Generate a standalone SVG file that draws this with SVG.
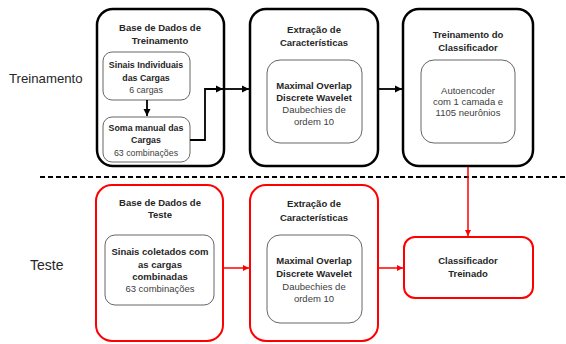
<svg xmlns="http://www.w3.org/2000/svg" width="566" height="344" viewBox="0 0 566 344">
<defs>
<style>
.ob{fill:#fff;stroke:#000;stroke-width:2.5}
.rb{fill:#fff;stroke:#f00;stroke-width:2}
.ib{fill:#fff;stroke:#666;stroke-width:1}
text{font-family:"Liberation Sans",Arial,sans-serif;font-size:9.5px;text-anchor:middle;fill:#404040}
.b{font-weight:bold;fill:#262626}
.s{font-size:8.8px}
.side{font-size:13.2px;text-anchor:start;fill:#262626}
.k{fill:none;stroke:#000;stroke-width:1.8}
.r{fill:none;stroke:#f00;stroke-width:1.5}
</style>
<marker id="ak" viewBox="0 0 6 6" refX="6" refY="3" markerWidth="4" markerHeight="4" orient="auto"><path d="M0,0L6,3L0,6z" fill="#000"/></marker>
<marker id="ar" viewBox="0 0 6 6" refX="6" refY="3" markerWidth="4" markerHeight="4" orient="auto"><path d="M0,0L6,3L0,6z" fill="#f00"/></marker>
</defs>
<text class="side" x="9" y="83">Treinamento</text>
<text class="side" x="30" y="270" style="font-size:14px">Teste</text>
<line x1="40" y1="177" x2="566" y2="177" stroke="#000" stroke-width="2" stroke-dasharray="5,3"/>
<g id="n1">
<rect class="ob" x="97" y="9" width="127" height="157" rx="16"/>
<text class="b" x="160" y="31">Base de Dados de</text>
<text class="b" x="160" y="44">Treinamento</text>
</g>
<g id="n1a">
<rect class="ib" x="103" y="52" width="87" height="48" rx="9"/>
<text class="b s" x="146" y="68">Sinais Individuais</text>
<text class="b s" x="146" y="81">das Cargas</text>
<text class="s" x="146" y="93">6 cargas</text>
</g>
<g id="n1b">
<rect class="ib" x="103" y="117" width="87" height="45" rx="9"/>
<text class="b s" x="146" y="131">Soma manual das</text>
<text class="b s" x="146" y="143">Cargas</text>
<text class="s" x="146" y="156">63 combinações</text>
</g>
<g id="n2">
<rect class="ob" x="250" y="9" width="128" height="157" rx="16"/>
<text class="b" x="314" y="33">Extração de</text>
<text class="b" x="314" y="46">Características</text>
<rect class="ib" x="267" y="60" width="95" height="83" rx="13"/>
<text class="b" x="314" y="89">Maximal Overlap</text>
<text class="b" x="314" y="101">Discrete Wavelet</text>
<text x="314" y="113">Daubechies de</text>
<text x="314" y="125">ordem 10</text>
</g>
<g id="n3">
<rect class="ob" x="403" y="9" width="130" height="157" rx="16"/>
<text class="b" x="468" y="38">Treinamento do</text>
<text class="b" x="468" y="51">Classificador</text>
<rect class="ib" x="421" y="60" width="94" height="83" rx="13"/>
<text x="468" y="94">Autoencoder</text>
<text x="468" y="105">com 1 camada e</text>
<text x="468" y="116">1105 neurônios</text>
</g>
<g id="n4">
<rect class="rb" x="96" y="185" width="127" height="156" rx="16"/>
<text class="b" x="160" y="206">Base de Dados de</text>
<text class="b" x="160" y="218">Teste</text>
<rect class="ib" x="105" y="235" width="109" height="70" rx="10"/>
<text class="b" x="160" y="255">Sinais coletados com</text>
<text class="b" x="160" y="268">as cargas</text>
<text class="b" x="160" y="280">combinadas</text>
<text x="160" y="292">63 combinações</text>
</g>
<g id="n5">
<rect class="rb" x="250" y="185" width="128" height="156" rx="16"/>
<text class="b" x="314" y="207">Extração de</text>
<text class="b" x="314" y="221">Características</text>
<rect class="ib" x="267" y="235" width="95" height="88" rx="13"/>
<text class="b" x="314" y="264">Maximal Overlap</text>
<text class="b" x="314" y="277">Discrete Wavelet</text>
<text x="314" y="290">Daubechies de</text>
<text x="314" y="302">ordem 10</text>
</g>
<g id="n6">
<rect class="rb" x="404" y="237" width="129" height="61" rx="11"/>
<text class="b" x="468" y="264">Classificador</text>
<text class="b" x="468" y="277">Treinado</text>
</g>
<g id="connectors">
<line class="k" x1="147" y1="100" x2="147" y2="116" marker-end="url(#ak)"/>
<polyline class="k" points="190,140 205,140 205,89 223,89" marker-end="url(#ak)"/>
<line class="k" x1="223" y1="89" x2="249" y2="89" marker-end="url(#ak)"/>
<line class="k" x1="378" y1="89" x2="402" y2="89" marker-end="url(#ak)"/>
<line class="r" x1="223" y1="268" x2="249" y2="268" marker-end="url(#ar)"/>
<line class="r" x1="378" y1="268" x2="403" y2="268" marker-end="url(#ar)"/>
<line class="r" x1="468" y1="167" x2="468" y2="236" marker-end="url(#ar)"/>
</g>
</svg>
